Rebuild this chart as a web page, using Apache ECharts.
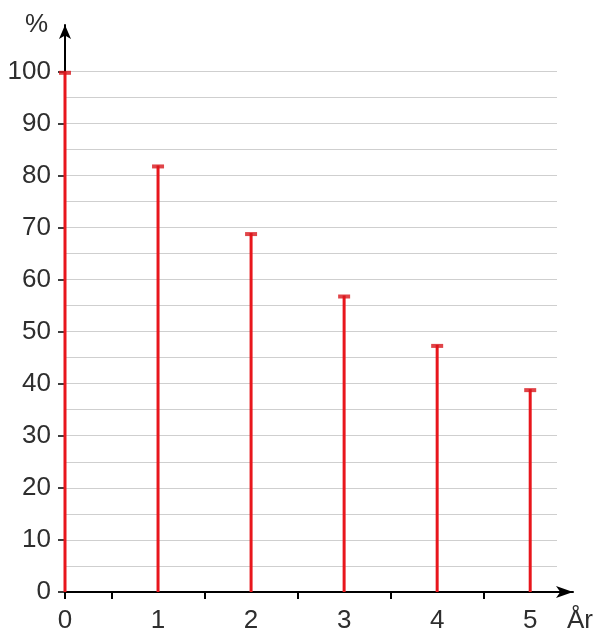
<!DOCTYPE html>
<html>
<head>
<meta charset="utf-8">
<script src="https://cdn.jsdelivr.net/npm/echarts@6/dist/echarts.min.js"></script>
<style>
html,body{margin:0;padding:0;background:#fff;}
#chart{width:597px;height:634px;}
</style>
</head>
<body>
<div id="chart"></div>
<script>
const years = [0, 1, 2, 3, 4, 5];
const shares = [100, 82, 69, 57, 47.5, 39];
const xLabelValues = [0, 1, 2, 3, 4, 5];
const xTickValues = [0, 0.5, 1.5, 2.5, 3.5, 4.5];
const yLabelValues = [0, 10, 20, 30, 40, 50, 60, 70, 80, 90, 100];

const FONT = "'Liberation Sans', Arial, sans-serif";
const TXT = '#2e2e2e';
const pts = years.map((y, i) => [y, shares[i]]);

const chart = echarts.init(document.getElementById('chart'), null, {renderer: 'canvas'});
chart.setOption({
  animation: false,
  backgroundColor: '#ffffff',
  grid: [
    {left: 65, right: 40, top: 71, bottom: 42},
    {left: 65, right: 24, top: 25, bottom: 42}
  ],
  xAxis: [
    {gridIndex: 0, type: 'value', min: 0, max: 1, show: false},
    {
      gridIndex: 1, type: 'value', min: 0, max: 5.46,
      axisLine: {show: true, symbol: ['none', 'arrow'], symbolSize: [9, 17], lineStyle: {color: '#000', width: 2}},
      axisTick: {show: true, customValues: xTickValues, length: 7, lineStyle: {color: '#000', width: 2}},
      axisLabel: {customValues: xLabelValues, margin: 16, fontSize: 26, fontFamily: FONT, color: TXT},
      splitLine: {show: false},
      name: 'År', nameLocation: 'end', nameGap: -6,
      nameTextStyle: {align: 'left', verticalAlign: 'top', padding: [16, 0, 0, 0], fontSize: 26, fontFamily: FONT, color: TXT}
    }
  ],
  yAxis: [
    {
      gridIndex: 0, type: 'value', min: 0, max: 100, interval: 5,
      axisLine: {show: false}, axisTick: {show: false}, axisLabel: {show: false},
      splitLine: {show: true, lineStyle: {color: '#cfcfcf', width: 1}}
    },
    {
      gridIndex: 1, type: 'value', min: 0, max: 109,
      axisLine: {show: true, symbol: ['none', 'arrow'], symbolSize: [9, 14], lineStyle: {color: '#000', width: 2}},
      axisTick: {show: true, customValues: yLabelValues, length: 7, lineStyle: {color: '#000', width: 1.5}},
      axisLabel: {customValues: yLabelValues, margin: 14, fontSize: 26, fontFamily: FONT, color: TXT},
      splitLine: {show: false},
      name: '%', nameLocation: 'end', nameGap: 0,
      nameTextStyle: {align: 'right', verticalAlign: 'middle', padding: [0, 17, 0, 0], fontSize: 26, fontFamily: FONT, color: TXT}
    }
  ],
  series: [
    {
      type: 'bar', xAxisIndex: 1, yAxisIndex: 1, data: pts, barWidth: 3,
      itemStyle: {color: '#e8161c'}, z: 3
    },
    {
      type: 'scatter', xAxisIndex: 1, yAxisIndex: 1, data: pts,
      symbol: 'rect', symbolSize: [12, 4], symbolOffset: [0, 1],
      itemStyle: {color: '#d8161c'}, z: 4
    }
  ]
});
</script>
</body>
</html>
